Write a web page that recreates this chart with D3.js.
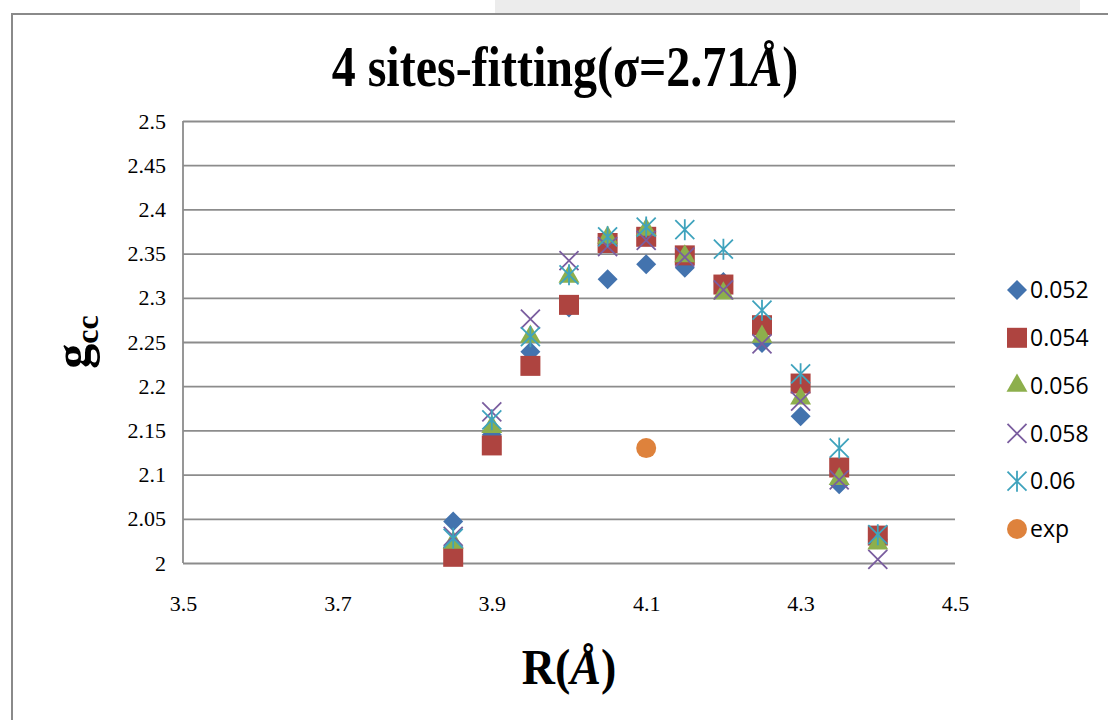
<!DOCTYPE html>
<html>
<head>
<meta charset="utf-8">
<script src="https://cdn.jsdelivr.net/npm/d3@7"></script>
<style>
  body { margin: 0; background: #fff; }
  svg { display: block; }
</style>
</head>
<body>
<div id="chart"></div>
<script>
// R values (Å) shared by every fitted series
const rValues = [3.85, 3.9, 3.95, 4.0, 4.05, 4.1, 4.15, 4.2, 4.25, 4.3, 4.35, 4.4];

// g_cc, one array per parameter
const g052 = [2.047, 2.145, 2.239, 2.289, 2.321, 2.338, 2.334, 2.318, 2.249, 2.166, 2.089, 2.027];
const g054 = [2.007, 2.133, 2.223, 2.292, 2.362, 2.369, 2.348, 2.315, 2.269, 2.203, 2.108, 2.031];
const g056 = [2.023, 2.154, 2.256, 2.324, 2.368, 2.377, 2.347, 2.305, 2.256, 2.186, 2.095, 2.022];
const g058 = [2.030, 2.171, 2.276, 2.342, 2.358, 2.365, 2.346, 2.309, 2.248, 2.183, 2.094, 2.004];
const g060 = [2.028, 2.162, 2.256, 2.326, 2.369, 2.380, 2.377, 2.355, 2.286, 2.214, 2.130, 2.032];
const expR = [4.1];
const expG = [2.13];

const seriesNames = ["0.052", "0.054", "0.056", "0.058", "0.06", "exp"];
const xTicks = [3.5, 3.7, 3.9, 4.1, 4.3, 4.5];
const yTicks = [2, 2.05, 2.1, 2.15, 2.2, 2.25, 2.3, 2.35, 2.4, 2.45, 2.5];

const W = 1108, H = 720;
const margin = { top: 121, left: 183, right: 153, bottom: 157 };
const width = W - margin.left - margin.right;
const height = H - margin.top - margin.bottom;
const serif = "'Liberation Serif', 'Times New Roman', serif";

const svg = d3.select("#chart").append("svg")
    .attr("width", W)
    .attr("height", H);

// faint scan artefact at the top and the outer frame
svg.append("rect")
    .attr("x", 495).attr("y", 0).attr("width", 585).attr("height", 13)
    .attr("fill", "#ececec");
svg.append("rect")
    .attr("x", 12).attr("y", 14)
    .attr("width", W + 20).attr("height", H + 20)
    .attr("fill", "none")
    .attr("stroke", "#8a8a8a")
    .attr("stroke-width", 2);

const x = d3.scaleLinear().domain([3.5, 4.5]).range([0, width]);
const y = d3.scaleLinear().domain([2, 2.5]).range([height, 0]);

const g = svg.append("g")
    .attr("transform", `translate(${margin.left},${margin.top})`);

// horizontal gridlines + y labels
const yAxis = g.append("g")
    .call(d3.axisLeft(y).tickValues(yTicks).tickSize(-width).tickPadding(17)
        .tickFormat(d => d3.format("")(d)));
yAxis.select(".domain").remove();
yAxis.selectAll("line").attr("stroke", "#8c8c8c").attr("stroke-width", 1.8);
yAxis.selectAll("text")
    .attr("font-family", serif)
    .attr("font-size", 22)
    .attr("fill", "#000");

// vertical axis line
g.append("line")
    .attr("x1", 0).attr("x2", 0).attr("y1", 0).attr("y2", height)
    .attr("stroke", "#8c8c8c").attr("stroke-width", 1.8);

// x labels
const xAxis = g.append("g")
    .attr("transform", `translate(0,${height})`)
    .call(d3.axisBottom(x).tickValues(xTicks).tickSize(0).tickPadding(32)
        .tickFormat(d3.format(".1f")));
xAxis.select(".domain").remove();
xAxis.selectAll("text")
    .attr("font-family", serif)
    .attr("font-size", 22)
    .attr("fill", "#000");

// marker shapes
const h = 9.5;
const symX = { draw(ctx) { ctx.moveTo(-h, -h); ctx.lineTo(h, h); ctx.moveTo(-h, h); ctx.lineTo(h, -h); } };
const symStar = { draw(ctx) {
    ctx.moveTo(-h, -h); ctx.lineTo(h, h); ctx.moveTo(-h, h); ctx.lineTo(h, -h);
    ctx.moveTo(0, -h - 1); ctx.lineTo(0, h + 1);
} };
const markers = [
    { type: d3.symbolSquare, size: 200, rotate: 45, fill: "#4373AE", stroke: null },
    { type: d3.symbolSquare, size: 400, rotate: 0, fill: "#AE4440", stroke: null },
    { type: d3.symbolTriangle, size: 190, rotate: 0, fill: "#8DAF4C", stroke: null },
    { type: symX, size: 1, rotate: 0, fill: "none", stroke: "#7A5D9F" },
    { type: symStar, size: 1, rotate: 0, fill: "none", stroke: "#3FA3BD" },
    { type: d3.symbolCircle, size: 314, rotate: 0, fill: "#DE823C", stroke: null }
];

const series = [
    { xs: rValues, ys: g052 },
    { xs: rValues, ys: g054 },
    { xs: rValues, ys: g056 },
    { xs: rValues, ys: g058 },
    { xs: rValues, ys: g060 },
    { xs: expR, ys: expG }
];

function drawMarker(sel, m) {
    sel.attr("d", d3.symbol().type(m.type).size(m.size)())
        .attr("fill", m.fill)
        .attr("stroke", m.stroke || "none")
        .attr("stroke-width", m.stroke ? 1.8 : 0);
}

series.forEach((s, i) => {
    const m = markers[i];
    g.append("g").selectAll("path")
        .data(s.xs.map((v, j) => [v, s.ys[j]]))
        .join("path")
        .attr("transform", d => `translate(${x(d[0])},${y(d[1])}) rotate(${m.rotate})`)
        .call(drawMarker, m);
});

// legend
const legend = svg.append("g").attr("transform", "translate(1017,290)");
seriesNames.forEach((name, i) => {
    const row = legend.append("g").attr("transform", `translate(0,${i * 47.8})`);
    row.append("path")
        .attr("transform", `rotate(${markers[i].rotate})`)
        .call(drawMarker, markers[i]);
    row.append("text")
        .attr("x", 13)
        .attr("dy", "0.36em")
        .attr("font-family", "'Open Sans', sans-serif")
        .attr("font-size", 23)
        .attr("fill", "#000")
        .text(name);
});

// title (slightly stretched vertically like the source)
svg.append("text")
    .attr("transform", "translate(565,86) scale(1,1.18)")
    .attr("text-anchor", "middle")
    .attr("font-family", serif)
    .attr("font-weight", "bold")
    .attr("font-size", 48)
    .html("4 sites-fitting(σ=2.71<tspan font-style='italic'>Å</tspan>)");

// x axis title
svg.append("text")
    .attr("transform", "translate(569,684) scale(1,1.08)")
    .attr("text-anchor", "middle")
    .attr("font-family", serif)
    .attr("font-weight", "bold")
    .attr("font-size", 46)
    .html("R(<tspan font-style='italic'>Å</tspan>)");

// y axis title: g with subscript cc
svg.append("text")
    .attr("transform", "translate(89,342) rotate(-90)")
    .attr("text-anchor", "middle")
    .attr("font-family", serif)
    .attr("font-weight", "bold")
    .attr("font-size", 50)
    .html("g<tspan font-size='32' dy='9'>cc</tspan>");
</script>
</body>
</html>
